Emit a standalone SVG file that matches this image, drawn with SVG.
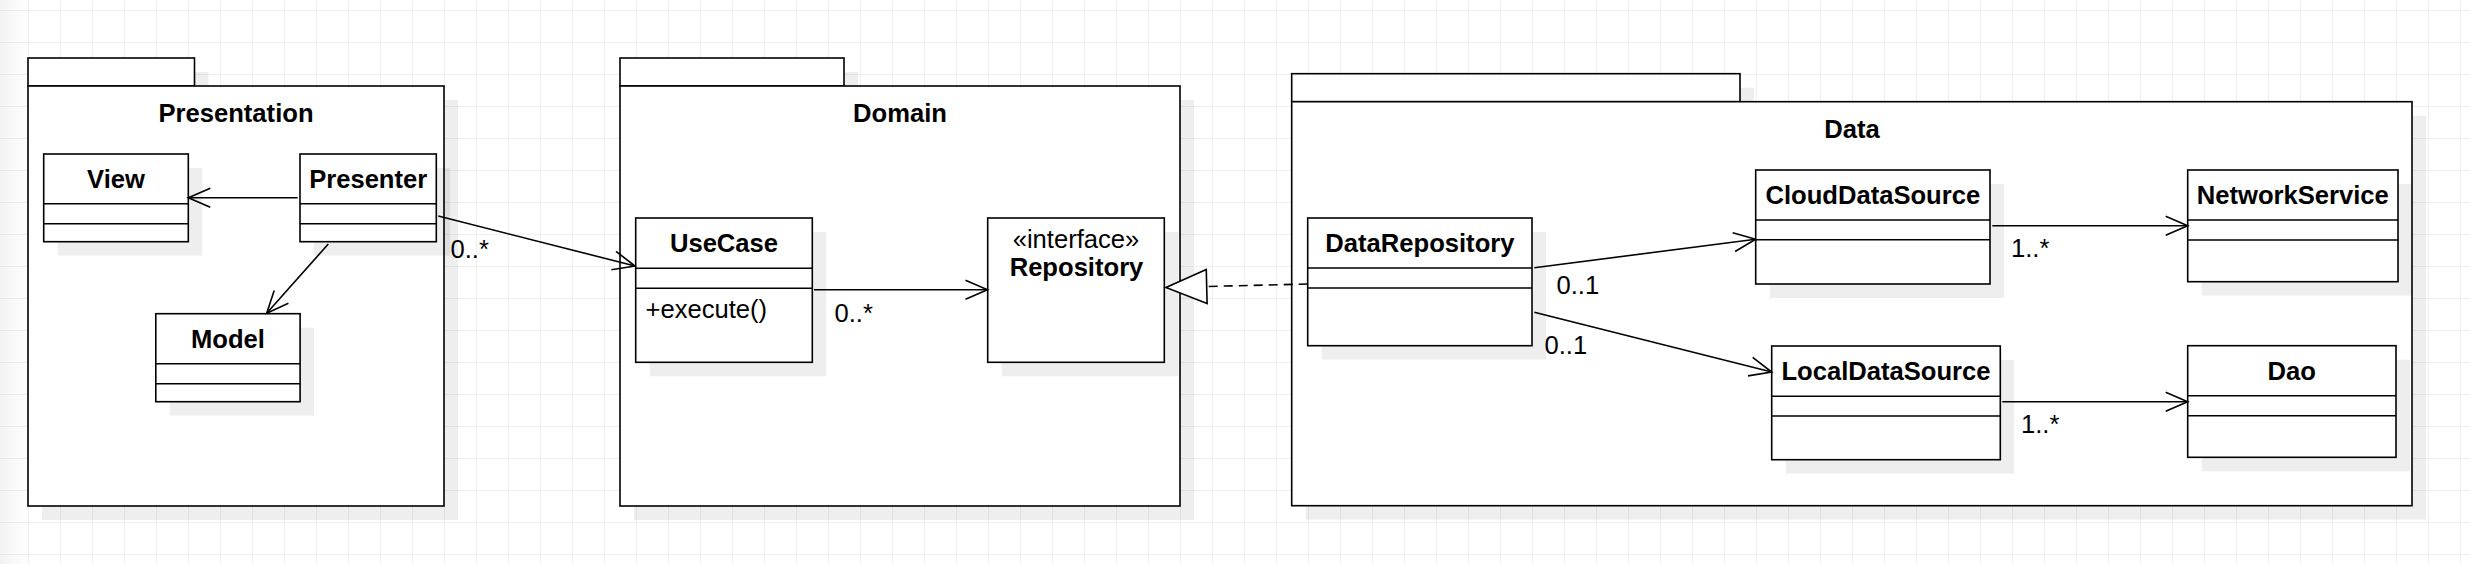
<svg xmlns="http://www.w3.org/2000/svg" width="2470" height="564" viewBox="0 0 2470 564">
<style>
.box{fill:#fff;stroke:#000;stroke-width:1.6}
.shadow{fill:#000;fill-opacity:0.065}
.sep{stroke:#000;stroke-width:1.6;fill:none}
.title{font-family:"Liberation Sans",Arial,Helvetica,sans-serif;font-weight:bold;font-size:25.6px;text-anchor:middle;fill:#000}
.txt{font-family:"Liberation Sans",Arial,Helvetica,sans-serif;font-size:25.6px;fill:#000}
.mid{text-anchor:middle}
.edge{fill:none;stroke:#000;stroke-width:1.6}
.dash{stroke-dasharray:9 6}
</style>
<defs>
<pattern id="grid" width="32" height="32" patternUnits="userSpaceOnUse" x="28" y="10">
<path d="M 0.5 0 V 32 M 0 0.5 H 32" fill="none" stroke="#efefef" stroke-width="1"/>
</pattern>
<linearGradient id="fadeL" x1="0" y1="0" x2="1" y2="0">
<stop offset="0" stop-color="#000" stop-opacity="0.05"/>
<stop offset="1" stop-color="#000" stop-opacity="0"/>
</linearGradient>
<marker id="open" markerUnits="userSpaceOnUse" markerWidth="30" markerHeight="26" viewBox="-27 -13 30 26" refX="0" refY="0" orient="auto" overflow="visible">
<path d="M -22 -9.5 L 0 0 L -22 9.5" fill="none" stroke="#000" stroke-width="1.6"/>
</marker>
<marker id="tri" markerUnits="userSpaceOnUse" markerWidth="46" markerHeight="40" viewBox="-44 -20 46 40" refX="0" refY="0" orient="auto" overflow="visible">
<path d="M -40.7 -17 L 0 0 L -40.7 17 Z" fill="#fff" stroke="#000" stroke-width="1.6" stroke-dasharray="none"/>
</marker>
</defs>

<rect x="0" y="0" width="2470" height="564" fill="#fff"/>
<rect x="0" y="0" width="2470" height="564" fill="url(#grid)"/>
<rect x="0" y="0" width="28" height="564" fill="url(#fadeL)"/>

<!-- Packages -->
<g id="pkg-presentation">
<rect class="shadow" x="42" y="72" width="166.5" height="28"/>
<rect class="shadow" x="42" y="100" width="416" height="420"/>
<rect class="box" x="28" y="58" width="166.5" height="28"/>
<rect class="box" x="28" y="86" width="416" height="420"/>
<text class="title" x="236" y="122">Presentation</text>
</g>

<g id="pkg-domain">
<rect class="shadow" x="634" y="72" width="224" height="28"/>
<rect class="shadow" x="634" y="100" width="560" height="420"/>
<rect class="box" x="620" y="58" width="224" height="28"/>
<rect class="box" x="620" y="86" width="560" height="420"/>
<text class="title" x="900" y="122">Domain</text>
</g>

<g id="pkg-data">
<rect class="shadow" x="1305.7" y="87.7" width="448.3" height="28"/>
<rect class="shadow" x="1305.7" y="115.7" width="1120.3" height="404"/>
<rect class="box" x="1291.7" y="73.7" width="448.3" height="28"/>
<rect class="box" x="1291.7" y="101.7" width="1120.3" height="404"/>
<text class="title" x="1852" y="138">Data</text>
</g>

<!-- Classes -->
<g id="cls-view">
<rect class="shadow" x="57.7" y="168" width="144.6" height="87.7"/>
<rect class="box" x="43.7" y="154" width="144.6" height="87.7"/>
<path class="sep" d="M 43.7 203.7 H 188.3 M 43.7 223.7 H 188.3"/>
<text class="title" x="116" y="187.7">View</text>
</g>

<g id="cls-presenter">
<rect class="shadow" x="314" y="168" width="136.3" height="87.7"/>
<rect class="box" x="300" y="154" width="136.3" height="87.7"/>
<path class="sep" d="M 300 203.7 H 436.3 M 300 223.7 H 436.3"/>
<text class="title" x="368.2" y="187.7">Presenter</text>
</g>

<g id="cls-model">
<rect class="shadow" x="169.8" y="327.7" width="144.3" height="88"/>
<rect class="box" x="155.8" y="313.7" width="144.3" height="88"/>
<path class="sep" d="M 155.8 363.7 H 300.1 M 155.8 383.7 H 300.1"/>
<text class="title" x="228" y="347.7">Model</text>
</g>

<g id="cls-usecase">
<rect class="shadow" x="649.7" y="232" width="176.6" height="144.3"/>
<rect class="box" x="635.7" y="218" width="176.6" height="144.3"/>
<path class="sep" d="M 635.7 268.3 H 812.3 M 635.7 288.3 H 812.3"/>
<text class="title" x="724" y="252">UseCase</text>
<text class="txt" x="645.5" y="318">+execute()</text>
</g>

<g id="cls-repository">
<rect class="shadow" x="1001.7" y="232" width="176.6" height="144.3"/>
<rect class="box" x="987.7" y="218" width="176.6" height="144.3"/>
<text class="txt mid" x="1076" y="247.5">«interface»</text>
<text class="title" x="1076.5" y="275.7">Repository</text>
</g>

<g id="cls-datarepository">
<rect class="shadow" x="1321.7" y="232" width="224.3" height="127.7"/>
<rect class="box" x="1307.7" y="218" width="224.3" height="127.7"/>
<path class="sep" d="M 1307.7 268 H 1532 M 1307.7 288 H 1532"/>
<text class="title" x="1419.9" y="252">DataRepository</text>
</g>

<g id="cls-clouddatasource">
<rect class="shadow" x="1769.7" y="184" width="234.3" height="114"/>
<rect class="box" x="1755.7" y="170" width="234.3" height="114"/>
<path class="sep" d="M 1755.7 220 H 1990 M 1755.7 239.7 H 1990"/>
<text class="title" x="1872.8" y="204">CloudDataSource</text>
</g>

<g id="cls-localdatasource">
<rect class="shadow" x="1785.7" y="360" width="228.6" height="113.7"/>
<rect class="box" x="1771.7" y="346" width="228.6" height="113.7"/>
<path class="sep" d="M 1771.7 396.3 H 2000.3 M 1771.7 416 H 2000.3"/>
<text class="title" x="1886" y="380">LocalDataSource</text>
</g>

<g id="cls-networkservice">
<rect class="shadow" x="2201.7" y="184" width="210.3" height="111.7"/>
<rect class="box" x="2187.7" y="170" width="210.3" height="111.7"/>
<path class="sep" d="M 2187.7 220 H 2398 M 2187.7 240 H 2398"/>
<text class="title" x="2292.8" y="204">NetworkService</text>
</g>

<g id="cls-dao">
<rect class="shadow" x="2201.7" y="359.7" width="208.3" height="111.6"/>
<rect class="box" x="2187.7" y="345.7" width="208.3" height="111.6"/>
<path class="sep" d="M 2187.7 395.7 H 2396 M 2187.7 415.7 H 2396"/>
<text class="title" x="2291.8" y="379.7">Dao</text>
</g>

<!-- Connectors -->
<g id="connectors">
<path class="edge" d="M 297.7 197.7 L 188.3 197.7" marker-end="url(#open)"/>
<path class="edge" d="M 328.3 244 L 266.7 313.3" marker-end="url(#open)"/>
<path class="edge" d="M 438.3 216 L 635 266" marker-end="url(#open)"/>
<text class="txt" x="450.5" y="257.7">0..*</text>
<path class="edge" d="M 814 289.7 L 987.5 289.7" marker-end="url(#open)"/>
<text class="txt" x="834.5" y="321.7">0..*</text>
<path class="edge dash" d="M 1307.7 284 L 1166 287.5" marker-end="url(#tri)"/>
<path class="edge" d="M 1534.3 267.7 L 1755.7 239.3" marker-end="url(#open)"/>
<text class="txt" x="1556.5" y="294">0..1</text>
<path class="edge" d="M 1534.3 312.3 L 1771.7 372" marker-end="url(#open)"/>
<text class="txt" x="1544.5" y="353.5">0..1</text>
<path class="edge" d="M 1992.3 225.7 L 2187.7 225.7" marker-end="url(#open)"/>
<text class="txt" x="2011" y="257.3">1..*</text>
<path class="edge" d="M 2002.3 401.7 L 2187.7 401.7" marker-end="url(#open)"/>
<text class="txt" x="2021" y="433.3">1..*</text>
</g>
</svg>
